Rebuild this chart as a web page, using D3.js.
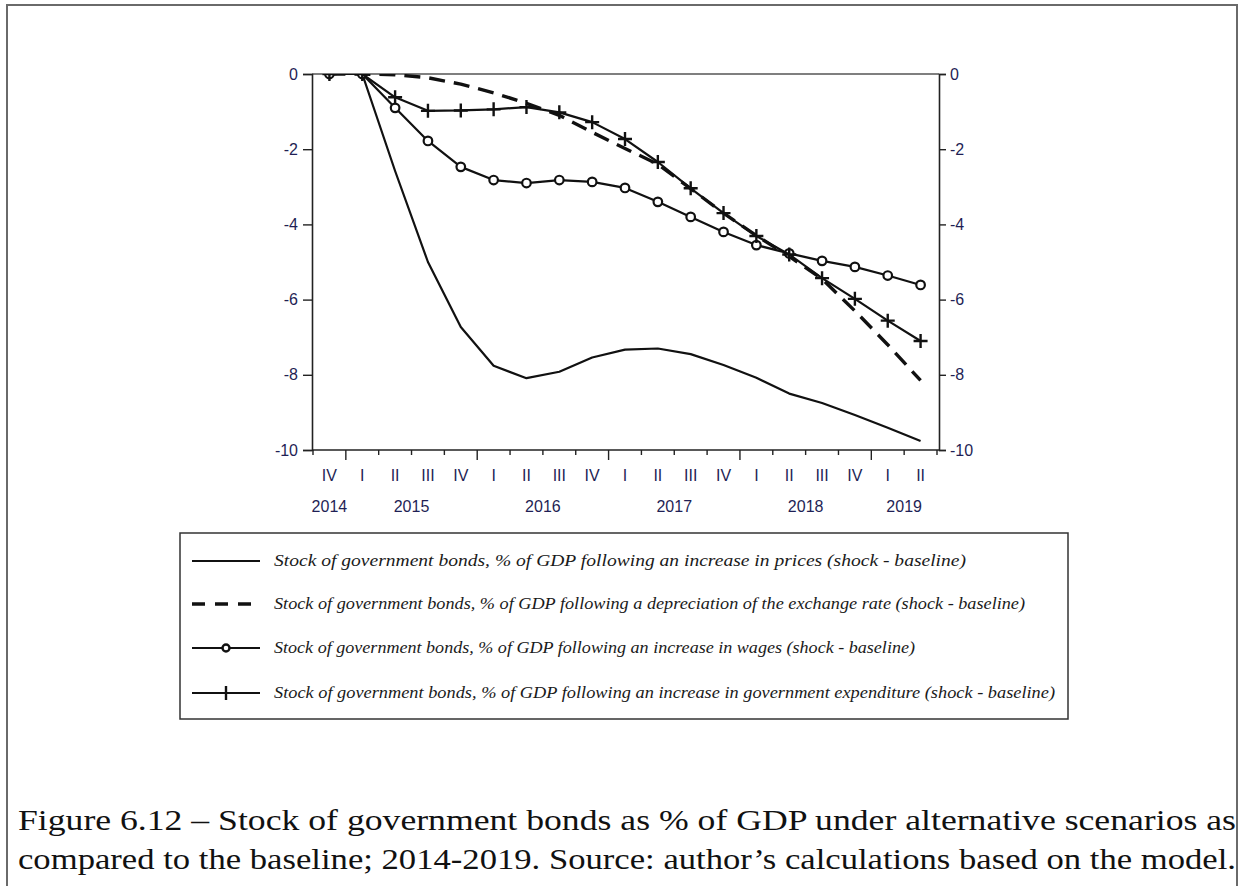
<!DOCTYPE html>
<html>
<head>
<meta charset="utf-8">
<script src="https://cdn.jsdelivr.net/npm/d3@7/dist/d3.min.js"></script>
<style>
  html, body { margin: 0; padding: 0; background: #fff; }
  svg { display: block; }
</style>
</head>
<body>
<svg id="chart" width="1244" height="886"></svg>
<script>
// ---------------- DATA ----------------
const years    = [2014, 2015, 2015, 2015, 2015, 2016, 2016, 2016, 2016, 2017, 2017, 2017, 2017, 2018, 2018, 2018, 2018, 2019, 2019];
const quarters = ["IV", "I", "II", "III", "IV", "I", "II", "III", "IV", "I", "II", "III", "IV", "I", "II", "III", "IV", "I", "II"];
const yTicks   = [0, -2, -4, -6, -8, -10];

const pricesShock   = [0, 0, -2.58, -5.0, -6.73, -7.76, -8.09, -7.92, -7.54, -7.33, -7.30, -7.45, -7.74, -8.08, -8.50, -8.75, -9.07, -9.41, -9.76];
const exchangeShock = [0, 0, -0.02, -0.1, -0.27, -0.5, -0.78, -1.1, -1.55, -1.98, -2.4, -3.05, -3.7, -4.3, -4.85, -5.45, -6.3, -7.2, -8.15];
const wagesShock    = [0, 0, -0.9, -1.78, -2.47, -2.82, -2.9, -2.82, -2.87, -3.03, -3.4, -3.8, -4.2, -4.55, -4.77, -4.97, -5.13, -5.36, -5.61];
const govExpShock   = [0, 0, -0.62, -0.98, -0.97, -0.94, -0.88, -1.02, -1.28, -1.73, -2.34, -3.04, -3.7, -4.31, -4.8, -5.43, -5.98, -6.56, -7.1];

const legendLabels = [
  "Stock of government bonds, % of GDP following an increase in prices (shock - baseline)",
  "Stock of government bonds, % of GDP following a depreciation of the exchange rate (shock - baseline)",
  "Stock of government bonds, % of GDP following an increase in wages (shock - baseline)",
  "Stock of government bonds, % of GDP following an increase in government expenditure (shock - baseline)"
];
const captionLines = [
  "Figure 6.12 \u2013 Stock of government bonds as % of GDP under alternative scenarios as",
  "compared to the baseline; 2014-2019. Source: author\u2019s calculations based on the model."
];

// ---------------- SETUP ----------------
const svg = d3.select("#chart");
const W = 1244, H = 886;
svg.append("rect").attr("width", W).attr("height", H).attr("fill", "#fff");

// outer figure frame (open at the bottom)
svg.append("path")
  .attr("d", "M7,886 L7,5 L1237,5 L1237,886")
  .attr("fill", "none").attr("stroke", "#6a6a6a").attr("stroke-width", 2);

const periods = years.map((y, i) => y + "-" + quarters[i]);
const plot = { left: 312, right: 939, top: 74, bottom: 450 };

const x = d3.scaleBand().domain(periods).range([313, 937]).padding(0);
const xc = p => x(p) + x.bandwidth() / 2;
const y = d3.scaleLinear().domain([-10, 0]).range([plot.bottom, plot.top]);

const labelColor = "#1f1f55";
const axisFont = "Liberation Sans, Arial, sans-serif";
const fmt = d => String(d); // plain hyphen-minus as in the reference

// plot frame top line
svg.append("line")
  .attr("x1", plot.left).attr("x2", plot.right)
  .attr("y1", plot.top).attr("y2", plot.top)
  .attr("stroke", "#555").attr("stroke-width", 1.6);

// y axes
const yLeft = svg.append("g").attr("transform", `translate(${plot.left},0)`)
  .call(d3.axisLeft(y).tickValues(yTicks).tickSize(9).tickPadding(5).tickFormat(fmt));
const yRight = svg.append("g").attr("transform", `translate(${plot.right},0)`)
  .call(d3.axisRight(y).tickValues(yTicks).tickSize(7).tickPadding(4).tickFormat(fmt));
[yLeft, yRight].forEach(g => {
  g.select(".domain").attr("stroke", "#222").attr("stroke-width", 1.6);
  g.selectAll(".tick line").attr("stroke", "#222").attr("stroke-width", 1.4);
  g.selectAll("text").attr("font-family", axisFont).attr("font-size", 16).attr("fill", labelColor);
});

// x axis (labels at band centres)
const xAxis = svg.append("g").attr("transform", `translate(0,${plot.bottom})`)
  .call(d3.axisBottom(x).tickSize(0).tickFormat((d, i) => quarters[i]));
xAxis.select(".domain").remove();
xAxis.selectAll("text")
  .attr("y", 31).attr("dy", 0)
  .attr("font-family", axisFont).attr("font-size", 16).attr("fill", labelColor);

svg.append("line")
  .attr("x1", plot.left).attr("x2", plot.right)
  .attr("y1", plot.bottom).attr("y2", plot.bottom)
  .attr("stroke", "#222").attr("stroke-width", 1.6);

// tick marks on band boundaries (longer at year starts)
const boundaries = periods.map((p, i) => ({ pos: x(p), major: quarters[i] === "I" }));
boundaries.push({ pos: x.range()[1], major: false });
svg.append("g").selectAll("line").data(boundaries).join("line")
  .attr("x1", d => d.pos).attr("x2", d => d.pos)
  .attr("y1", plot.bottom).attr("y2", d => plot.bottom + (d.major ? 10 : 5))
  .attr("stroke", "#222").attr("stroke-width", 1.4);

// year labels centred over each year's quarters
const yearGroups = d3.groups(periods.map((p, i) => ({ p, yr: years[i] })), d => d.yr);
svg.append("g").selectAll("text").data(yearGroups).join("text")
  .attr("x", d => (x(d[1][0].p) + x(d[1][d[1].length - 1].p) + x.bandwidth()) / 2)
  .attr("y", 512)
  .attr("text-anchor", "middle")
  .attr("font-family", axisFont).attr("font-size", 16).attr("fill", labelColor)
  .text(d => d[0]);

// ---------------- SERIES ----------------
svg.append("clipPath").attr("id", "plotclip").append("rect")
  .attr("x", plot.left).attr("y", plot.top)
  .attr("width", plot.right - plot.left).attr("height", plot.bottom - plot.top);

const series = [
  { values: pricesShock, dash: null, width: 2.2, marker: null },
  { values: exchangeShock, dash: "16,9", width: 3.4, marker: null },
  { values: wagesShock, dash: null, width: 2.2, marker: "circle" },
  { values: govExpShock, dash: null, width: 2.2, marker: "plus" }
];

const line = d3.line().x((d, i) => xc(periods[i])).y(d => y(d));
const gSeries = svg.append("g").attr("clip-path", "url(#plotclip)");

function drawMarker(g, type, cx, cy) {
  if (type === "circle") {
    g.append("circle").attr("cx", cx).attr("cy", cy).attr("r", 4.3)
      .attr("fill", "#fff").attr("stroke", "#111").attr("stroke-width", 2.2);
  } else if (type === "plus") {
    g.append("path").attr("d", `M${cx - 7},${cy} L${cx + 7},${cy} M${cx},${cy - 7} L${cx},${cy + 7}`)
      .attr("stroke", "#111").attr("stroke-width", 2.4).attr("fill", "none");
  }
}

series.forEach(s => {
  gSeries.append("path")
    .attr("d", line(s.values))
    .attr("fill", "none").attr("stroke", "#111")
    .attr("stroke-width", s.width)
    .attr("stroke-linejoin", "round")
    .attr("stroke-dasharray", s.dash);
  if (s.marker) {
    s.values.forEach((v, i) => drawMarker(gSeries, s.marker, xc(periods[i]), y(v)));
  }
});

// ---------------- LEGEND ----------------
const leg = { x: 180, y: 533, w: 888, h: 186 };
svg.append("rect").attr("x", leg.x).attr("y", leg.y).attr("width", leg.w).attr("height", leg.h)
  .attr("fill", "#fff").attr("stroke", "#333").attr("stroke-width", 1.5);

const legRowY = [561, 604, 648, 693];
const legTextW = [692, 751, 641, 781];
series.forEach((s, i) => {
  const ly = legRowY[i];
  svg.append("line").attr("x1", 192).attr("x2", 260).attr("y1", ly).attr("y2", ly)
    .attr("stroke", "#111").attr("stroke-width", s.dash ? 3.6 : 2.2)
    .attr("stroke-dasharray", s.dash ? "13,10" : null);
  if (s.marker === "circle") {
    svg.append("circle").attr("cx", 226).attr("cy", ly).attr("r", 3.5)
      .attr("fill", "#fff").attr("stroke", "#111").attr("stroke-width", 2.4);
  } else if (s.marker === "plus") {
    svg.append("path").attr("d", `M226,${ly - 7} L226,${ly + 7}`)
      .attr("stroke", "#111").attr("stroke-width", 2.4);
  }
  svg.append("text")
    .attr("x", 274).attr("y", ly + 5)
    .attr("font-family", "Liberation Serif, serif").attr("font-style", "italic")
    .attr("font-size", 17).attr("fill", "#1a1a1a")
    .attr("textLength", legTextW[i]).attr("lengthAdjust", "spacingAndGlyphs")
    .text(legendLabels[i]);
});

// ---------------- CAPTION ----------------
const capY = [830, 869];
captionLines.forEach((t, i) => {
  svg.append("text")
    .attr("x", 18).attr("y", capY[i])
    .attr("font-family", "Liberation Serif, serif")
    .attr("font-size", 29).attr("fill", "#111")
    .attr("textLength", 1218).attr("lengthAdjust", "spacingAndGlyphs")
    .text(t);
});
</script>
</body>
</html>
